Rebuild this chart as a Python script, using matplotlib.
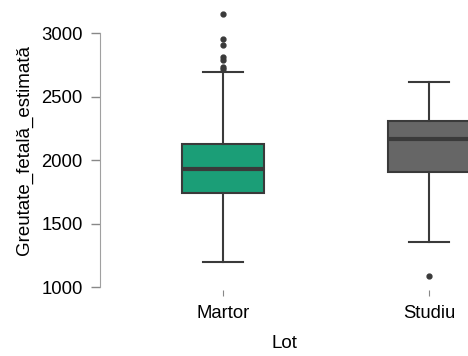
import matplotlib
matplotlib.use("Agg")
import matplotlib.pyplot as plt

plt.rcParams['font.family'] = ['Liberation Sans', 'DejaVu Sans']

# summary stats
groups = ["Martor", "Studiu"]
whislo = [1197, 1354]
q1 = [1740, 1906]
med = [1929, 2165]
q3 = [2126, 2307]
whishi = [2693, 2614]
fliers = [[3150, 2953, 2906, 2811, 2787, 2732, 2717], [1087]]
colors = ["#1b9e77", "#666666"]

stats = []
for i in range(len(groups)):
    stats.append(dict(label=groups[i], whislo=whislo[i], q1=q1[i], med=med[i],
                      q3=q3[i], whishi=whishi[i], fliers=fliers[i]))

fig = plt.figure(figsize=(4.68, 3.56), dpi=100)
ax = fig.add_axes([100 / 468, 0.1848, 1 - 100 / 468, 0.7866])

edge = "#3a3a3a"
bp = ax.bxp(stats, positions=[0, 1], widths=0.40, patch_artist=True,
            capwidths=0.194,
            boxprops=dict(edgecolor=edge, linewidth=1.5),
            medianprops=dict(color=edge, linewidth=3),
            whiskerprops=dict(color=edge, linewidth=1.5),
            capprops=dict(color=edge, linewidth=1.5),
            flierprops=dict(marker='o', markerfacecolor=edge, markeredgecolor=edge,
                            markersize=3.5))
for patch, c in zip(bp['boxes'], colors):
    patch.set_facecolor(c)

ax.set_xlim(-0.597, 1.189)
ax.set_ylim(975, 3180)
ax.set_yticks([1000, 1500, 2000, 2500, 3000])
ax.spines['left'].set_bounds(1000, 3000)
ax.spines['left'].set_color("#a0a0a0")
for s in ['top', 'right', 'bottom']:
    ax.spines[s].set_visible(False)

ax.tick_params(axis='y', length=6.5, width=1, color="#888888", pad=6, labelsize=13.3)
ax.tick_params(axis='x', length=4, width=0.8, color="#888888", pad=7, labelsize=13.3)
ax.set_xticks([0, 1])
ax.set_xticklabels(groups)

ax.set_ylabel("Greutate_fetală_estimată", fontsize=13.5, labelpad=6)
ax.set_xlabel("Lot", fontsize=13.5, labelpad=9)

fig.savefig("out.png", dpi=100)
